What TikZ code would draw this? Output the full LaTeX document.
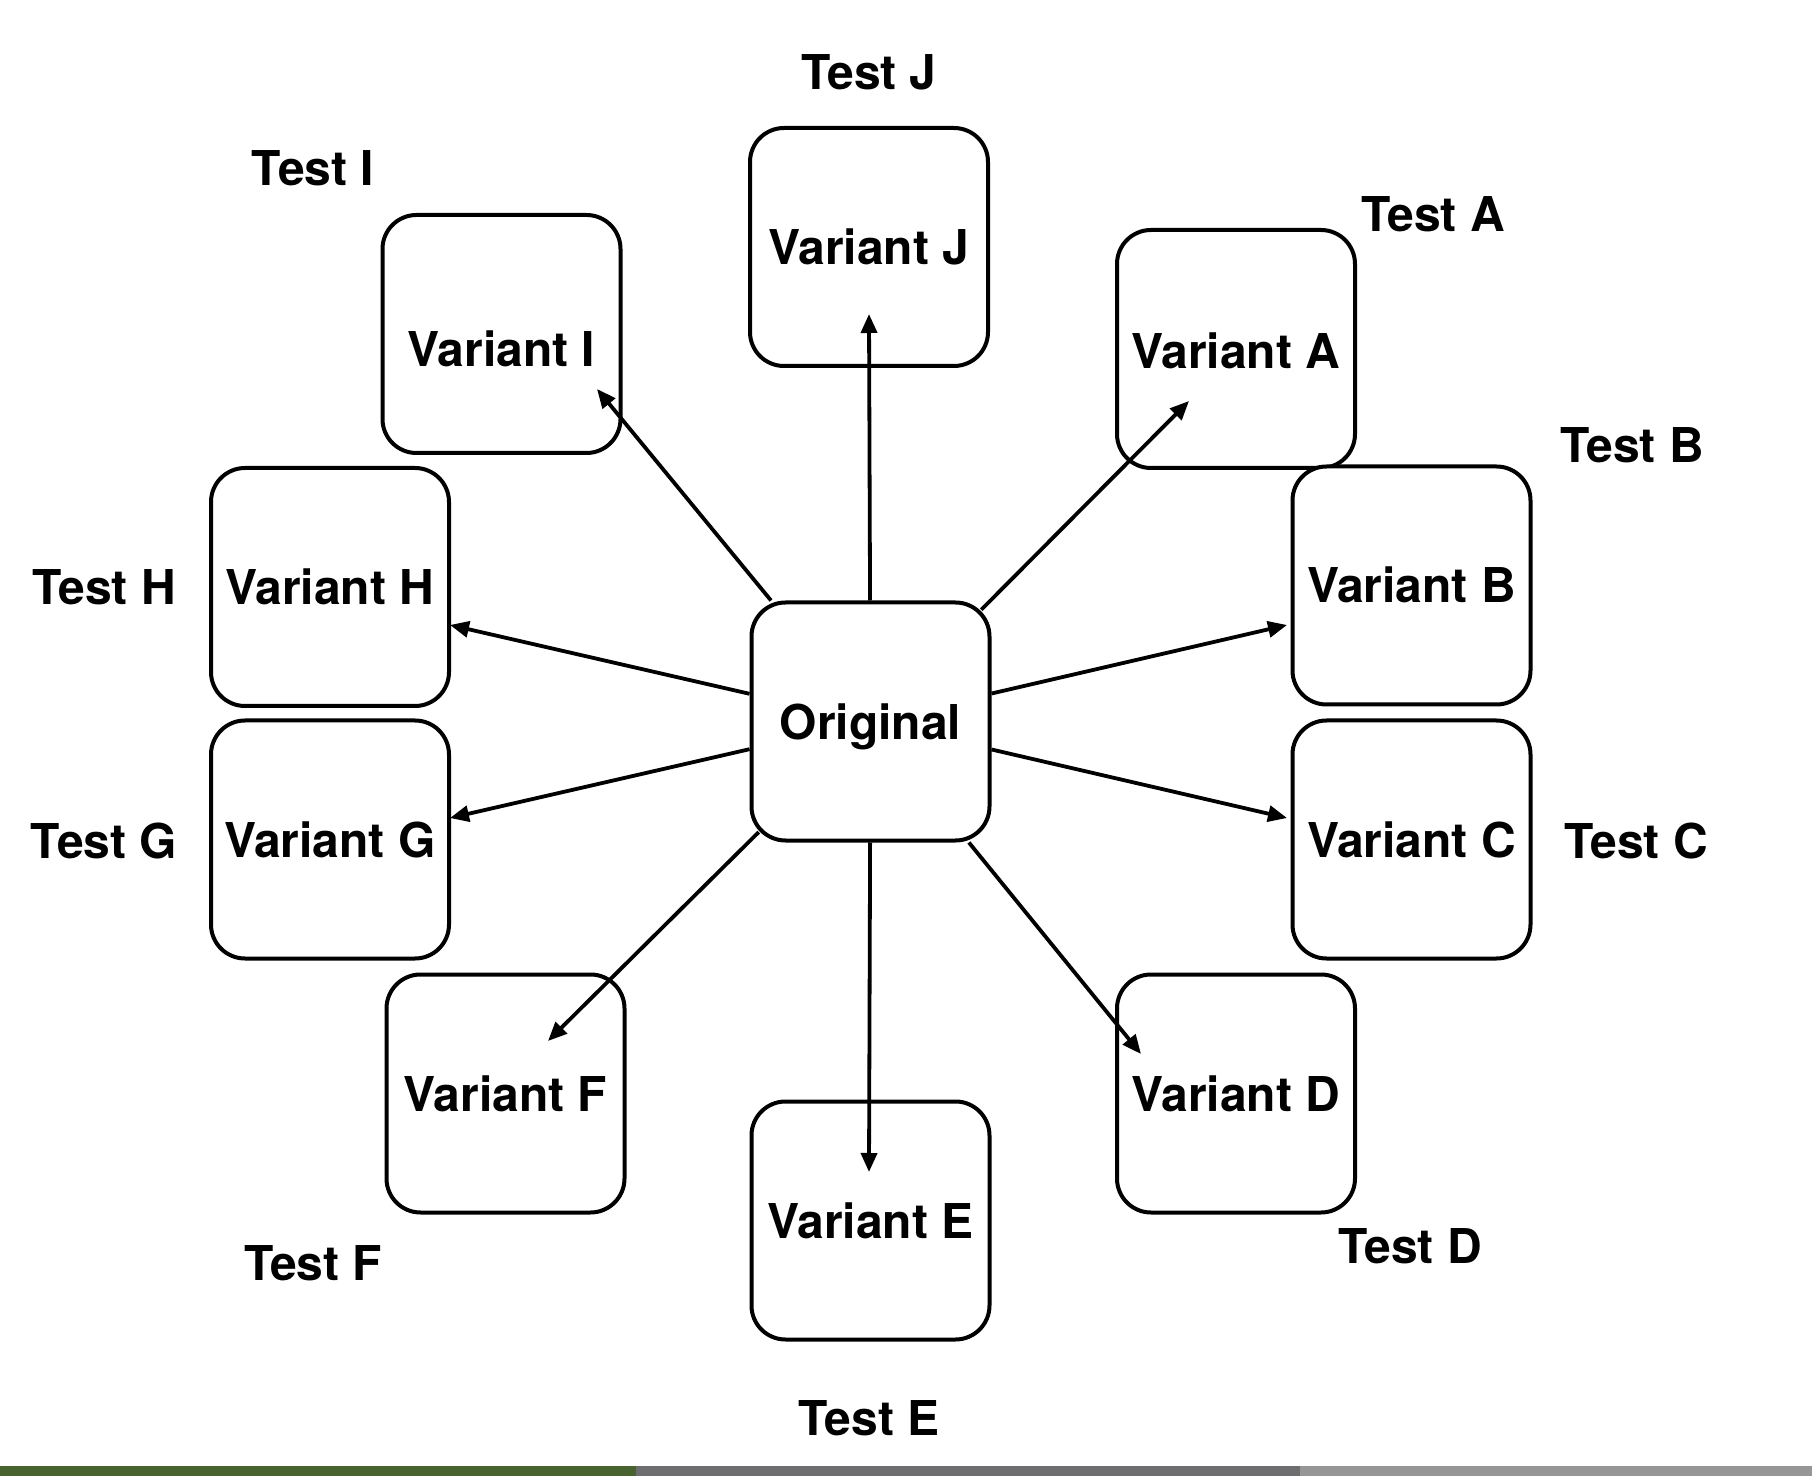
\documentclass[tikz,border=0pt]{standalone}
\usepackage{fontspec}
\setmainfont{TeX Gyre Heros}
\usetikzlibrary{arrows.meta}
\begin{document}
\begin{tikzpicture}[x=0.5pt,y=-0.5pt,
  vbox/.style={draw=black,line width=2pt,rounded corners=17pt,minimum width=119pt,minimum height=119pt,inner sep=0pt,font=\fontsize{24}{28}\selectfont\bfseries,fill=white,text height=17.5pt,text depth=0pt},
  lbl/.style={font=\fontsize{24}{28}\selectfont\bfseries,inner sep=0pt},
  arr/.style={line width=1.9pt,-{Triangle[length=9.5pt,width=8pt]}},
  corner/.style={shorten <=-6.5pt}]
\useasboundingbox (0,0) rectangle (1812,1476);
\fill[white] (0,0) rectangle (1812,1476);
% bottom strip
\fill[fill={rgb,255:red,72;green,98;blue,48}] (0,1466) rectangle (636,1476);
\fill[fill={rgb,255:red,110;green,110;blue,112}] (636,1466) rectangle (1300,1476);
\fill[fill={rgb,255:red,150;green,150;blue,150}] (1300,1466) rectangle (1812,1476);
% nodes
\node[vbox,text height=18.5pt] (O) at (870.5,721.5) {Original};
\node[vbox] (J) at (869,247) {Variant J};
\node[vbox,text height=33pt] (I) at (501.5,334) {Variant I};
\node[vbox,text height=20pt] (A) at (1236,349) {Variant A};
\node[vbox] (B) at (1411.5,585.5) {Variant B};
\node[vbox] (C) at (1411.5,839.5) {Variant C};
\node[vbox] (D) at (1236,1093.5) {Variant D};
\node[vbox] (E) at (870.5,1220.5) {Variant E};
\node[vbox] (F) at (505.5,1093.5) {Variant F};
\node[vbox] (G) at (330,839.5) {Variant G};
\node[vbox] (H) at (330,587) {Variant H};
% labels
\node[lbl] (tJ) at (869,72) {Test J};
\node[lbl] (tI) at (313,168) {Test I};
\node[lbl] (tA) at (1433,214) {Test A};
\node[lbl] (tB) at (1632,445) {Test B};
\node[lbl] (tH) at (104,587) {Test H};
\node[lbl] (tG) at (104,841) {Test G};
\node[lbl] (tC) at (1636,841) {Test C};
\node[lbl] (tF) at (313,1263) {Test F};
\node[lbl] (tD) at (1410,1246) {Test D};
\node[lbl] (tE) at (869,1418) {Test E};
% arrow tips
\coordinate (pJ) at (869,314);
\coordinate (pI) at (597,389);
\coordinate (pA) at (1189,401);
\coordinate (pB) at (1287,625);
\coordinate (pC) at (1287,818);
\coordinate (pD) at (1141,1054);
\coordinate (pE) at (869,1172);
\coordinate (pF) at (548,1041);
\coordinate (pG) at (450,818);
\coordinate (pH) at (450,625);
\foreach \t in {J,I,B,C,D,E,G,H}
  \draw[arr] (O) -- (p\t);
\draw[arr,corner] (O) -- (pA);
\draw[arr,corner] (O) -- (pF);
\end{tikzpicture}
\end{document}
